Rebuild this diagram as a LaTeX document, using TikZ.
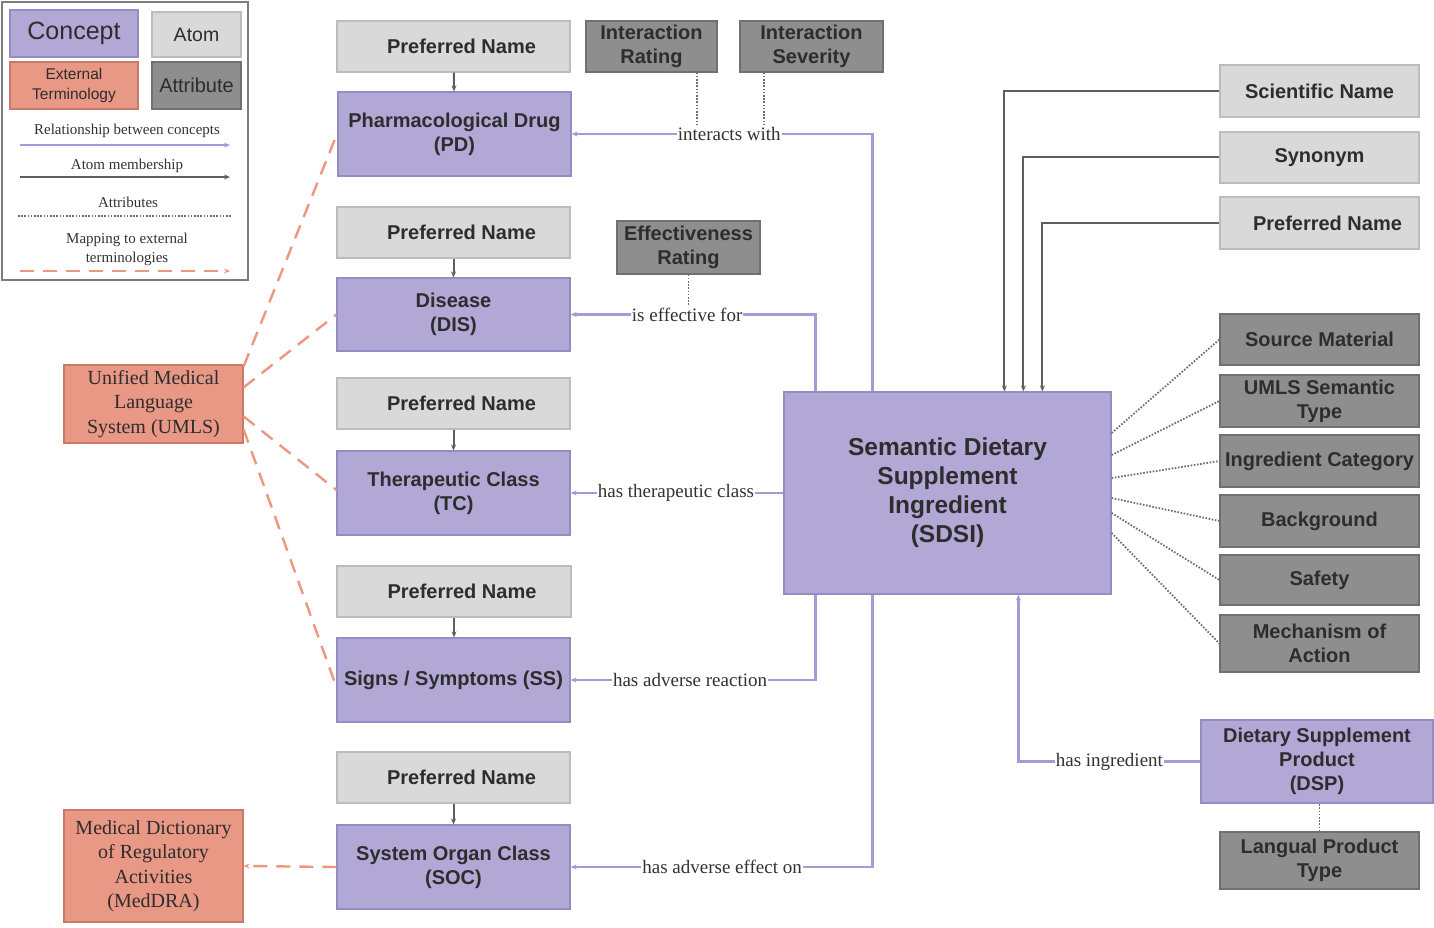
\documentclass[tikz,border=0pt]{standalone}
\usepackage{fontspec}
\setmainfont{Liberation Serif}
\setsansfont{Liberation Sans}
\usetikzlibrary{arrows.meta,calc}
\definecolor{cfill}{RGB}{178,168,214}
\definecolor{cline}{RGB}{150,140,196}
\definecolor{afill}{RGB}{217,217,217}
\definecolor{aline}{RGB}{188,188,188}
\definecolor{tfill}{RGB}{142,142,142}
\definecolor{tline}{RGB}{112,112,112}
\definecolor{efill}{RGB}{232,152,132}
\definecolor{eline}{RGB}{200,122,104}
\definecolor{relc}{RGB}{168,154,214}
\definecolor{memc}{RGB}{95,95,95}
\definecolor{attrc}{RGB}{110,110,110}
\definecolor{mapc}{RGB}{238,150,128}
\definecolor{txt}{RGB}{45,45,45}
\definecolor{lblc}{RGB}{50,50,50}
\definecolor{framec}{RGB}{125,125,125}
\tikzset{
  sz/.style n args={2}{minimum width=#1,minimum height=#2},
  box/.style={draw, line width=1.2pt, inner sep=1pt, align=center, text=txt,
    font=\sffamily\bfseries\fontsize{20}{24}\selectfont},
  concept/.style={box, fill=cfill, draw=cline},
  atom/.style={box, fill=afill, draw=aline},
  attrbox/.style={box, fill=tfill, draw=tline},
  extbox/.style={box, fill=efill, draw=eline, font=\rmfamily\fontsize{20}{24.5}\selectfont},
  rel/.style={draw=relc, line width=2.2pt, -{Stealth[length=6pt,width=5pt]}},
  mem/.style={draw=memc, line width=2pt, -{Stealth[length=6pt,width=5pt]}},
  attrl/.style={draw=attrc, line width=1.8pt, dash pattern=on 1.6pt off 1.6pt},
  mapl/.style={draw=mapc, line width=2.4pt, dash pattern=on 14pt off 9pt},
  lbl/.style={fill=white, inner sep=1pt, text=lblc, font=\rmfamily\fontsize{19}{22}\selectfont},
  legtxt/.style={inner sep=0pt, align=center, text=lblc, font=\rmfamily\fontsize{15}{19}\selectfont},
}
\begin{document}
\begin{tikzpicture}[x=1pt,y=-1pt]
\useasboundingbox (0,0) rectangle (1434,928);
% ---------- legend ----------
\node[draw=framec, line width=1.8pt, sz={246}{278}] (legend) at (125,141) {};
\node[concept, sz={128}{47}, font=\sffamily\fontsize{25}{28}\selectfont] (lgc) at (74,33.5) {Concept};
\node[atom, sz={89}{45}, font=\sffamily\fontsize{19.5}{22}\selectfont] (lga) at (196.5,34.5) {Atom};
\node[extbox, sz={128}{47}, font=\sffamily\fontsize{15.5}{19.5}\selectfont] (lge) at (74,85.5) {External\\Terminology};
\node[attrbox, sz={89}{47}, font=\sffamily\fontsize{20}{22}\selectfont] (lgt) at (196.5,85.5) {Attribute};
\node[legtxt] (lt1) at (127,131) {Relationship between concepts};
\coordinate (l1a) at (20,145); \coordinate (l1b) at (230,145);
\draw[rel] (l1a) -- (l1b);
\node[legtxt] (lt2) at (127,166) {Atom membership};
\coordinate (l2a) at (20,177); \coordinate (l2b) at (230,177);
\draw[mem] (l2a) -- (l2b);
\node[legtxt] (lt3) at (128,202) {Attributes};
\coordinate (l3a) at (18,216); \coordinate (l3b) at (232,216);
\draw[attrl] (l3a) -- (l3b);
\node[legtxt] (lt4) at (127,249) {Mapping to external\\terminologies};
\coordinate (l4a) at (20,271); \coordinate (l4b) at (230,271);
\draw[mapl, -{Stealth[length=6pt,width=5pt]}] (l4a) -- (l4b);
% ---------- left column ----------
\node[atom, sz={233}{51}] (pn1) at (453.5,46.5) {\hspace*{16pt}Preferred Name};
\node[concept, sz={233}{84}] (pd) at (454.5,134) {Pharmacological Drug\\(PD)};
\node[atom, sz={233}{51}] (pn2) at (453.5,232.5) {\hspace*{16pt}Preferred Name};
\node[concept, sz={233}{73}] (dis) at (453.5,314.5) {Disease\\(DIS)};
\node[atom, sz={233}{51}] (pn3) at (453.5,403.5) {\hspace*{16pt}Preferred Name};
\node[concept, sz={233}{84}] (tc) at (453.5,493) {Therapeutic Class\\(TC)};
\node[atom, sz={234}{51}] (pn4) at (454,591.5) {\hspace*{16pt}Preferred Name};
\node[concept, sz={233}{84}] (ss) at (453.5,680) {Signs / Symptoms (SS)};
\node[atom, sz={233}{51}] (pn5) at (453.5,777.5) {\hspace*{16pt}Preferred Name};
\node[concept, sz={233}{84}] (soc) at (453.5,867) {System Organ Class\\(SOC)};
% ---------- attributes top ----------
\node[attrbox, sz={131}{51}] (ir) at (651.5,46.5) {Interaction\\Rating};
\node[attrbox, sz={143}{51}] (isv) at (811.5,46.5) {Interaction\\Severity};
\node[attrbox, sz={143}{53}] (er) at (688.5,247.5) {Effectiveness\\Rating};
% ---------- centre ----------
\node[concept, sz={327}{202}, font=\sffamily\bfseries\fontsize{24.5}{29}\selectfont] (sdsi) at (947.5,493)
  {Semantic Dietary\\Supplement\\Ingredient\\(SDSI)};
% ---------- right column ----------
\node[atom, sz={199}{52}] (sci) at (1319.5,91) {Scientific Name};
\node[atom, sz={199}{51}] (syn) at (1319.5,157.5) {Synonym};
\node[atom, sz={199}{52}] (pnr) at (1319.5,223) {\hspace*{16pt}Preferred Name};
\node[attrbox, sz={199}{51}] (src) at (1319.5,339.5) {Source Material};
\node[attrbox, sz={199}{52}] (umt) at (1319.5,401) {UMLS Semantic\\Type};
\node[attrbox, sz={199}{52}] (ic) at (1319.5,461) {Ingredient Category};
\node[attrbox, sz={199}{52}] (bg) at (1319.5,521) {Background};
\node[attrbox, sz={199}{50}] (saf) at (1319.5,580) {Safety};
\node[attrbox, sz={199}{57}] (moa) at (1319.5,643.5) {Mechanism of\\Action};
\node[concept, sz={232}{83}] (dsp) at (1317,761.5) {Dietary Supplement\\Product\\(DSP)};
\node[attrbox, sz={199}{57}] (lpt) at (1319.5,860.5) {Langual Product\\Type};
% ---------- external terminologies ----------
\node[extbox, sz={179}{78}] (umls) at (153.5,404) {Unified Medical\\Language\\System (UMLS)};
\node[extbox, sz={179}{112}] (med) at (153.5,866) {Medical Dictionary\\of Regulatory\\Activities\\(MedDRA)};
% ---------- atom membership ----------
\draw[mem] (pn1) -- (pd);
\draw[mem] (pn2) -- (dis);
\draw[mem] (pn3) -- (tc);
\draw[mem] (pn4.south) -- (ss.north -| pn4.south);
\draw[mem] (pn5) -- (soc);
\draw[mem] (sci.west) -| ([xshift=221pt]sdsi.north west);
\draw[mem] (syn.west) -| ([xshift=240pt]sdsi.north west);
\draw[mem] (pnr.west) -| ([xshift=259pt]sdsi.north west);
% ---------- relationships ----------
\draw[rel] ([xshift=89pt]sdsi.north west) |- node[lbl, pos=0.738] (iw) {interacts with} (pd.east);
\draw[rel] ([xshift=32pt]sdsi.north west) |- node[lbl, pos=0.762] (ief) {is effective for} (dis.east);
\draw[rel] (sdsi.west) -- node[lbl, pos=0.505] (htc) {has therapeutic class} (tc.east);
\draw[rel] ([xshift=32pt]sdsi.south west) |- node[lbl, pos=0.756] (har) {has adverse reaction} (ss.east);
\draw[rel] ([xshift=89pt]sdsi.south west) |- node[lbl, pos=0.749] (hae) {has adverse effect on} (soc.east);
\draw[rel] (dsp.west) -| node[lbl, pos=0.25] (hi) {has ingredient} ([xshift=235pt]sdsi.south west);
% ---------- attributes ----------
\coordinate (irb) at ($(ir.south)+(45.5,0)$);
\coordinate (isb) at ($(isv.south)+(-47.5,0)$);
\draw[attrl] (irb) -- (irb |- iw.north);
\draw[attrl] (isb) -- (isb |- iw.north);
\draw[attrl] (er.south) -- (er.south |- ief.north);
\draw[attrl] ($(sdsi.east)+(0,-60)$) -- (src.west);
\draw[attrl] ($(sdsi.east)+(0,-38)$) -- (umt.west);
\draw[attrl] ($(sdsi.east)+(0,-15)$) -- (ic.west);
\draw[attrl] ($(sdsi.east)+(0,5)$) -- (bg.west);
\draw[attrl] ($(sdsi.east)+(0,20)$) -- (saf.west);
\draw[attrl] ($(sdsi.east)+(0,40)$) -- (moa.west);
\draw[attrl] (lpt.north) -- (lpt.north |- dsp.south);
% ---------- mappings ----------
\draw[mapl] ($(umls.north east)+(0,2)$) -- ($(pd.west)+(0,-1)$);
\draw[mapl] ($(umls.north east)+(0,23)$) -- (dis.west);
\draw[mapl] ($(umls.north east)+(0,52)$) -- ($(tc.west)+(0,-3)$);
\draw[mapl] ($(umls.north east)+(0,65)$) -- ($(ss.west)+(0,7)$);
\draw[mapl, -{Stealth[length=6pt,width=5pt]}] (soc.west) -- (med.east);
\end{tikzpicture}
\end{document}
